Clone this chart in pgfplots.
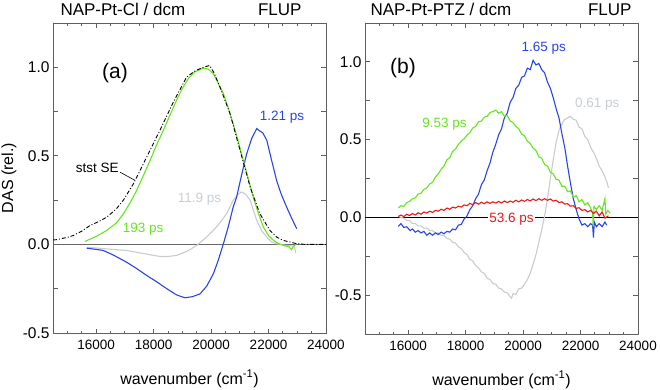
\documentclass[border=0pt]{standalone}
\usepackage{fontspec}
\setmainfont{Liberation Sans}
\usepackage{pgfplots}
\pgfplotsset{compat=1.18}

\definecolor{dasgreen}{RGB}{102,230,26}
\definecolor{dasblue}{RGB}{40,70,230}
\definecolor{dasgray}{RGB}{200,204,204}
\definecolor{dasred}{RGB}{235,25,25}
\definecolor{lblgray}{RGB}{198,206,212}
\definecolor{axgray}{RGB}{95,95,95}

\tikzset{ann/.style={font=\fontsize{13.5}{13.5}\selectfont, inner sep=1pt}}

\pgfplotsset{
  das/.style={
    scale only axis, width=273pt,
    xmin=14500, xmax=24000,
    xtick={16000,18000,20000,22000,24000},
    minor xtick={14500,15000,...,24000},
    ytick={-0.5,0,0.5,1},
    extra y ticks={-0.25,0.25,0.75}, extra y tick labels={},
    tick align=inside,
    major tick length=4.5pt, minor tick length=2.5pt,
    axis line style={draw=axgray, line width=0.9pt},
    every tick/.style={axgray, line width=0.8pt},
    scaled ticks=false,
    /pgf/number format/assume math mode=true,
    xticklabel style={font=\fontsize{13.5}{13.5}\selectfont, /pgf/number format/1000 sep={}, yshift=-4pt},
    yticklabel style={font=\fontsize{15.5}{15.5}\selectfont, /pgf/number format/fixed,
      /pgf/number format/fixed zerofill, /pgf/number format/precision=1},
    label style={font=\fontsize{16}{16}\selectfont},
    xlabel={wavenumber (cm\textsuperscript{-1})},
    xlabel style={at={(axis description cs:0.5,-0.1645)}, anchor=base},
    every axis plot/.append style={line width=1.1pt, no marks},
  },
}

\begin{document}
\begin{tikzpicture}[x=1pt,y=1pt]
\useasboundingbox (0,0) rectangle (660,389);

\node[anchor=base west, font=\fontsize{17}{17}\selectfont] at (57,373) {NAP-Pt-Cl / dcm};
\node[anchor=base east, font=\fontsize{17}{17}\selectfont] at (305,373) {FLUP};
\node[anchor=base west, font=\fontsize{17}{17}\selectfont] at (367,373) {NAP-Pt-PTZ / dcm};
\node[anchor=base east, font=\fontsize{17}{17}\selectfont] at (635,373) {FLUP};

% (a) NAP-Pt-Cl
\begin{axis}[das, at={(53pt,56pt)}, anchor=south west, height=310pt,
  ymin=-0.5, ymax=1.25,
  ylabel={DAS (rel.)},
  ylabel style={at={(axis description cs:-0.1465,0.5)}, anchor=base},
]
\addplot[black!60, line width=0.9pt] coordinates {(14500,0) (24000,0)};
% 11.9 ps
\addplot[dasgray] coordinates {
(15670,-0.015) (16000,-0.02) (16500,-0.027) (17060,-0.034) (17600,-0.05) (18220,-0.068)
(18500,-0.068) (18800,-0.062) (19150,-0.04) (19500,-0.006) (19800,0.035) (20080,0.079)
(20300,0.12) (20540,0.173) (20770,0.249) (20920,0.28) (21060,0.296) (21200,0.285)
(21360,0.249) (21480,0.19) (21590,0.136) (21750,0.08) (21940,0.041) (22100,0.015)
(22280,0.004) (22600,-0.005) (22900,-0.01) (22950,-0.05)};
% 1.21 ps
\addplot[dasblue] coordinates {
(15670,-0.021) (16000,-0.028) (16250,-0.034) (16600,-0.06) (17060,-0.1) (17400,-0.135)
(17760,-0.175) (18100,-0.21) (18460,-0.25) (18800,-0.285) (19090,-0.301) (19350,-0.295)
(19620,-0.279) (19850,-0.235) (20080,-0.166) (20250,-0.09) (20430,0.004) (20600,0.1)
(20770,0.211) (20890,0.267) (21060,0.39) (21240,0.512) (21420,0.6) (21590,0.654)
(21700,0.64) (21800,0.63) (21940,0.588) (22100,0.48) (22280,0.362) (22450,0.28)
(22630,0.211) (22800,0.15) (22980,0.089)};
% 193 ps
\addplot[dasgreen] coordinates {
(15614,0.017) (16000,0.045) (16370,0.079) (16700,0.12) (16950,0.173) (17200,0.24)
(17410,0.305) (17650,0.39) (17880,0.475) (18100,0.56) (18340,0.644) (18570,0.73)
(18800,0.814) (19000,0.88) (19210,0.936) (19450,0.975) (19730,0.995) (19900,0.99)
(20080,0.964) (20250,0.91) (20430,0.851) (20600,0.77) (20770,0.682) (20950,0.58)
(21120,0.475) (21300,0.37) (21470,0.267) (21650,0.175) (21820,0.098) (22000,0.05)
(22170,0.023) (22350,0.005) (22510,-0.006) (22700,-0.012) (22800,-0.03) (22860,-0.012)
(22980,0.005)};
% stst SE
\addplot[black, line width=0.9pt, dash pattern=on 4pt off 2pt on 1pt off 2pt] coordinates {
(14500,0.025) (14630,0.027) (15000,0.04) (15200,0.05) (15500,0.075) (15790,0.107)
(16100,0.13) (16370,0.154) (16700,0.2) (16950,0.25) (17300,0.343) (17760,0.493)
(18220,0.644) (18690,0.804) (19150,0.945) (19450,0.98) (19730,1.0) (19950,1.01)
(20100,0.97) (20310,0.889) (20660,0.738) (21010,0.531) (21360,0.324) (21700,0.173)
(22050,0.079) (22300,0.04) (22510,0.023) (22980,0.004) (23300,0.0) (24000,0.0)};
\draw[black, line width=0.6pt] (axis cs:16830,0.408) -- (axis cs:17350,0.362);
\node[ann, anchor=east] at (axis cs:16830,0.435) {stst SE};
\node[ann, dasgreen] at (axis cs:17640,0.086) {193 ps};
\node[ann, dasblue] at (axis cs:22470,0.72) {1.21 ps};
\node[ann, lblgray] at (axis cs:19600,0.254) {11.9 ps};
\node[font=\fontsize{21}{21}\selectfont] at (axis cs:16660,0.97) {(a)};
\end{axis}

% (b) NAP-Pt-PTZ
\begin{axis}[das, at={(365pt,55pt)}, anchor=south west, height=311pt,
  ymin=-0.75, ymax=1.25,
]
\addplot[black, line width=0.9pt] coordinates {(14500,0) (24000,0)};
% 0.61 ps
\addplot[dasgray] coordinates {
(15660,0.006) (15750,0.0) (15850,-0.005) (15950,-0.02) (16050,-0.02) (16150,-0.04)
(16250,-0.04) (16350,-0.055) (16450,-0.055) (16550,-0.07) (16650,-0.068) (16750,-0.085)
(16850,-0.085) (16950,-0.1) (17050,-0.1) (17150,-0.115) (17250,-0.115) (17350,-0.135)
(17450,-0.14) (17550,-0.16) (17650,-0.165) (17750,-0.19) (17850,-0.2) (17950,-0.225)
(18050,-0.24) (18150,-0.27) (18250,-0.28) (18350,-0.31) (18450,-0.325) (18550,-0.35)
(18650,-0.36) (18750,-0.39) (18850,-0.4) (18950,-0.425) (19050,-0.43) (19150,-0.455)
(19250,-0.46) (19350,-0.48) (19450,-0.485) (19550,-0.51) (19600,-0.52) (19650,-0.49)
(19750,-0.495) (19850,-0.46) (19950,-0.455) (20050,-0.43) (20150,-0.4) (20250,-0.36)
(20350,-0.3) (20450,-0.24) (20550,-0.16) (20650,-0.08) (20750,0.01) (20850,0.12)
(20950,0.25) (21050,0.37) (21150,0.48) (21250,0.56) (21350,0.6) (21450,0.63)
(21550,0.64) (21650,0.65) (21750,0.63) (21850,0.625) (21950,0.58) (22050,0.57)
(22150,0.52) (22250,0.5) (22350,0.45) (22450,0.42) (22550,0.38) (22650,0.33)
(22750,0.3) (22850,0.26) (22930,0.22) (22970,0.19)};
% 1.65 ps
\addplot[dasblue] coordinates {
(15660,-0.058) (15750,-0.04) (15850,-0.065) (15950,-0.06) (16070,-0.085) (16150,-0.075)
(16250,-0.095) (16350,-0.085) (16450,-0.1) (16550,-0.09) (16650,-0.115) (16750,-0.1)
(16850,-0.115) (16950,-0.1) (17050,-0.11) (17150,-0.095) (17250,-0.105) (17350,-0.09)
(17450,-0.095) (17550,-0.075) (17650,-0.08) (17750,-0.05) (17850,-0.045) (17950,-0.01)
(18040,0.006) (18150,0.05) (18250,0.075) (18350,0.12) (18450,0.15) (18550,0.21)
(18650,0.24) (18750,0.3) (18850,0.35) (18950,0.42) (19050,0.47) (19150,0.53)
(19250,0.57) (19350,0.64) (19450,0.67) (19550,0.74) (19650,0.77) (19750,0.83)
(19850,0.85) (19950,0.9) (20050,0.91) (20150,0.96) (20250,0.95) (20350,1.01)
(20450,0.98) (20550,0.99) (20650,0.95) (20750,0.93) (20850,0.87) (20950,0.83)
(21050,0.77) (21150,0.7) (21250,0.64) (21350,0.54) (21450,0.45) (21550,0.33)
(21650,0.22) (21750,0.12) (21850,0.05) (21950,-0.01) (22050,-0.05) (22150,-0.04)
(22250,-0.06) (22350,-0.04) (22420,-0.05) (22450,-0.13) (22480,-0.03) (22550,-0.06)
(22650,-0.04) (22750,-0.06) (22850,-0.03) (22910,-0.05)};
% 9.53 ps
\addplot[dasgreen] coordinates {
(15660,0.06) (15750,0.075) (15850,0.07) (15950,0.095) (16070,0.105) (16150,0.12)
(16250,0.125) (16350,0.15) (16450,0.155) (16550,0.18) (16650,0.19) (16750,0.215)
(16850,0.225) (16950,0.26) (17050,0.28) (17150,0.31) (17250,0.33) (17350,0.37)
(17450,0.385) (17550,0.425) (17650,0.44) (17750,0.47) (17850,0.49) (17950,0.505)
(18050,0.53) (18150,0.545) (18250,0.575) (18350,0.585) (18450,0.615) (18550,0.62)
(18650,0.645) (18750,0.65) (18850,0.675) (18950,0.68) (19050,0.69) (19150,0.67)
(19250,0.68) (19350,0.65) (19450,0.655) (19550,0.62) (19650,0.61) (19750,0.585)
(19850,0.57) (19950,0.535) (20050,0.525) (20150,0.49) (20250,0.475) (20350,0.445)
(20450,0.43) (20550,0.39) (20650,0.38) (20750,0.34) (20850,0.33) (20950,0.29)
(21050,0.28) (21150,0.245) (21250,0.24) (21350,0.2) (21450,0.2) (21550,0.165)
(21650,0.17) (21750,0.13) (21850,0.14) (21950,0.1) (22050,0.115) (22150,0.08)
(22250,0.095) (22350,0.06) (22420,0.03) (22440,-0.06) (22470,0.07) (22550,0.05)
(22650,0.075) (22750,0.045) (22850,0.12) (22880,0.02) (22950,0.045) (23030,0.028)};
% 53.6 ps
\addplot[dasred] coordinates {
(15660,0.006) (15750,0.015) (15850,0.005) (15950,0.02) (16050,0.012) (16150,0.025)
(16250,0.015) (16350,0.03) (16450,0.02) (16550,0.035) (16650,0.028) (16750,0.04)
(16850,0.032) (16950,0.045) (17050,0.04) (17150,0.052) (17250,0.045) (17350,0.06)
(17450,0.052) (17550,0.066) (17650,0.06) (17750,0.072) (17850,0.066) (17950,0.08)
(18050,0.075) (18150,0.09) (18250,0.082) (18350,0.095) (18450,0.085) (18550,0.097)
(18650,0.088) (18750,0.1) (18850,0.09) (18950,0.1) (19050,0.092) (19150,0.102)
(19250,0.093) (19350,0.105) (19450,0.095) (19550,0.105) (19650,0.097) (19750,0.11)
(19850,0.1) (19950,0.112) (20050,0.103) (20150,0.115) (20250,0.106) (20350,0.118)
(20450,0.108) (20550,0.12) (20650,0.11) (20750,0.12) (20850,0.11) (20950,0.118)
(21050,0.105) (21150,0.11) (21250,0.095) (21350,0.1) (21450,0.085) (21550,0.088)
(21650,0.072) (21750,0.075) (21850,0.058) (21950,0.062) (22050,0.045) (22150,0.05)
(22250,0.035) (22350,0.045) (22450,0.025) (22550,0.04) (22650,0.01) (22750,0.035)
(22850,-0.005) (22970,0.01)};
\node[ann, dasblue] at (axis cs:20720,1.086) {1.65 ps};
\node[ann, lblgray] at (axis cs:22580,0.728) {0.61 ps};
\node[ann, dasgreen] at (axis cs:17270,0.6) {9.53 ps};
\node[ann, dasred, fill=white] at (axis cs:19600,-0.01) {53.6 ps};
\node[font=\fontsize{21}{21}\selectfont] at (axis cs:15820,0.96) {(b)};
\end{axis}
\end{tikzpicture}
\end{document}
